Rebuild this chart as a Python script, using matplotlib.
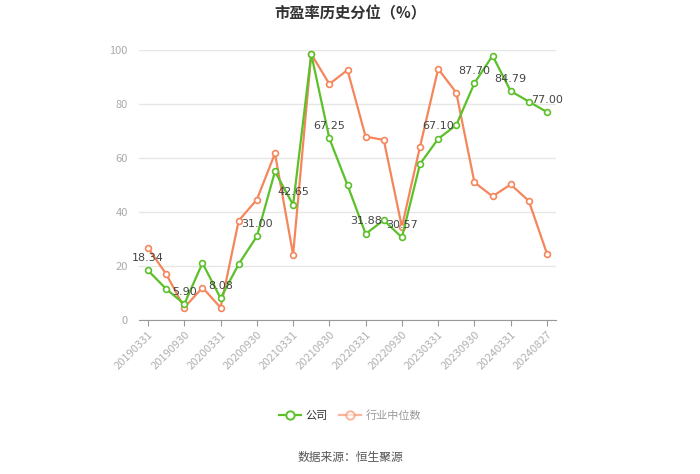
import matplotlib
matplotlib.use("Agg")
import matplotlib.pyplot as plt
from matplotlib.lines import Line2D

plt.rcParams['font.family'] = ['Noto Sans CJK SC', 'DejaVu Sans']

dates = ["20190331", "20190630", "20190930", "20191231",
         "20200331", "20200630", "20200930", "20201231",
         "20210331", "20210630", "20210930", "20211231",
         "20220331", "20220630", "20220930", "20221231",
         "20230331", "20230630", "20230930", "20231231",
         "20240331", "20240630", "20240827"]
company = [18.34, 11.5, 5.90, 21.1, 8.08, 20.7, 31.00, 55.0,
           42.65, 98.5, 67.25, 50.0, 31.88, 37.0, 30.57, 57.8,
           67.10, 72.2, 87.70, 97.9, 84.79, 80.9, 77.00]
industry = [26.7, 17.0, 4.6, 12.0, 4.6, 36.8, 44.6, 61.7,
            24.2, 98.5, 87.4, 92.6, 67.9, 66.7, 34.5, 64.2,
            93.0, 84.2, 51.0, 45.8, 50.2, 44.1, 24.6]
labels = ["公司", "行业中位数"]

green = "#5cc02a"
orange = "#f5865c"

fig = plt.figure(figsize=(7, 4.74), dpi=100)
ax = fig.add_axes([139 / 700, 1 - 320 / 474, 417 / 700, 270 / 474])

x = list(range(len(dates)))
ax.plot(x, industry, color=orange, lw=1.6, marker="o", ms=4.2,
        mfc="white", mec=orange, mew=1.2, zorder=3)
ax.plot(x, company, color=green, lw=1.6, marker="o", ms=4.2,
        mfc="white", mec=green, mew=1.2, zorder=4)

# value labels on every other company point
for i in range(0, len(dates), 2):
    ax.annotate("{:.2f}".format(company[i]), (i, company[i]),
                xytext=(0, 9), textcoords="offset points",
                ha="center", va="center", fontsize=8, color="#444444",
                family="DejaVu Sans", zorder=5)

ax.set_xlim(-0.5, len(dates) - 0.5)
ax.set_ylim(0, 100)
ax.set_yticks([0, 20, 40, 60, 80, 100])
ax.grid(axis="y", color="#e6e6e6", lw=1)
ax.set_axisbelow(True)
for s in ["top", "right", "left"]:
    ax.spines[s].set_visible(False)
ax.spines["bottom"].set_color("#999999")
ax.tick_params(axis="y", length=0, colors="#aaaaaa", labelsize=8, pad=8)
ax.set_xticks(x[::2])
ax.set_xticklabels(dates[::2], rotation=45, ha="right",
                   rotation_mode="anchor", fontsize=8, color="#b0b0b0")
ax.tick_params(axis="x", length=4, color="#999999", pad=3)

fig.text(0.5, 1 - 13 / 474, "市盈率历史分位（%）", ha="center", va="center",
         fontsize=11, fontweight="bold", color="#333333")

handles = [Line2D([], [], color=green, lw=1.6, marker="o", ms=6,
                  mfc="white", mec=green, mew=1.4),
           Line2D([], [], color=orange, lw=1.6, marker="o", ms=6,
                  mfc="white", mec=orange, mew=1.4, alpha=0.6)]
leg = fig.legend(handles, labels, loc="center", bbox_to_anchor=(0.5, 1 - 416 / 474),
                 ncol=2, frameon=False, fontsize=8, handlelength=2,
                 columnspacing=1.0, handletextpad=0.4)
leg.get_texts()[0].set_color("#333333")
leg.get_texts()[1].set_color("#999999")

fig.text(0.5, 1 - 457 / 474, "数据来源：恒生聚源", ha="center", va="center",
         fontsize=8.5, color="#555555")

fig.savefig("out.png", dpi=100)
